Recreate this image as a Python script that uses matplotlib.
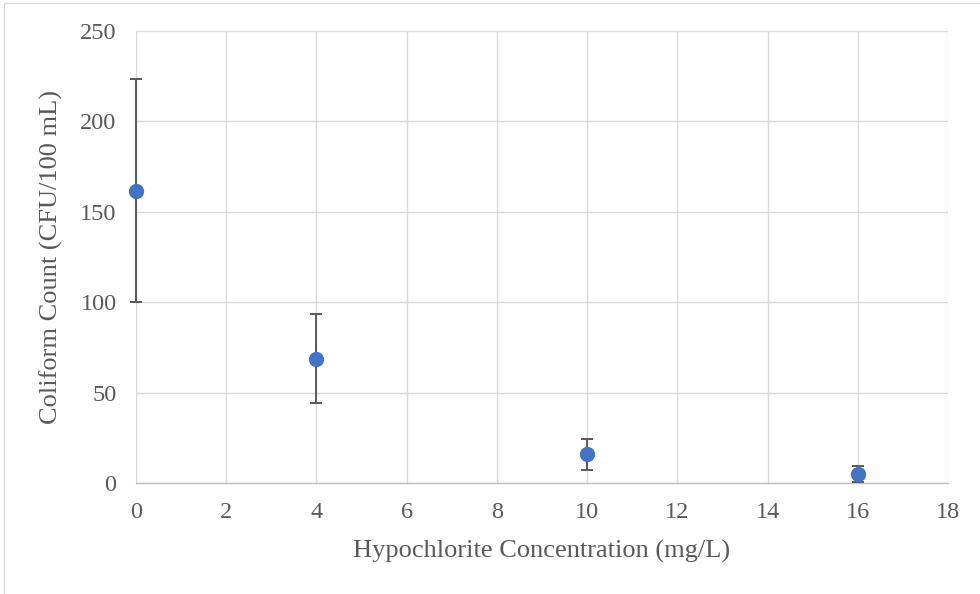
import matplotlib
matplotlib.use("Agg")
import matplotlib.pyplot as plt
from matplotlib.patches import Rectangle

# Data
concentration = [0, 4, 10, 16]
coliform = [161.7, 68.6, 16.0, 5.0]
error = [61.7, 24.6, 8.6, 4.4]
x_ticks = [0, 2, 4, 6, 8, 10, 12, 14, 16, 18]
y_ticks = [0, 50, 100, 150, 200, 250]

plt.rcParams['font.family'] = ['Liberation Serif', 'DejaVu Serif']

fig = plt.figure(figsize=(9.8, 5.94), dpi=100)
ax = fig.add_axes([136/980, 1-483/594, (948-136)/980, (483-31)/594])

# chart frame
fig.patches.append(Rectangle((4/980, -0.1), 1.2, 1-3/594+0.1, transform=fig.transFigure,
                             fill=False, edgecolor='#d9d9d9', linewidth=1.0, zorder=0))

ax.errorbar(concentration, coliform, yerr=error, fmt='none', ecolor='#595959',
            elinewidth=1.4, capsize=4.5, capthick=1.4, zorder=3, clip_on=False)
ax.plot(concentration, coliform, 'o', color='#4472C4', markersize=10, zorder=4, clip_on=False)

ax.set_xlim(0, 18)
ax.set_ylim(0, 250)
ax.set_xticks(x_ticks)
ax.set_yticks(y_ticks)
ax.grid(True, color='#d9d9d9', linewidth=1.0, zorder=0)
ax.set_axisbelow(True)
for s in ['top', 'right', 'left']:
    ax.spines[s].set_visible(False)
ax.spines['bottom'].set_color('#bfbfbf')
ax.spines['bottom'].set_linewidth(1.0)
ax.tick_params(axis='both', length=0, labelsize=17.5, labelcolor='#595959')
ax.tick_params(axis='y', pad=14)
ax.tick_params(axis='x', pad=14)

ax.set_xlabel('Hypochlorite Concentration (mg/L)', fontsize=19, color='#595959', labelpad=12)
ax.set_ylabel('Coliform Count (CFU/100 mL)', fontsize=19, color='#595959', labelpad=12)

fig.savefig('out.png', dpi=100)
